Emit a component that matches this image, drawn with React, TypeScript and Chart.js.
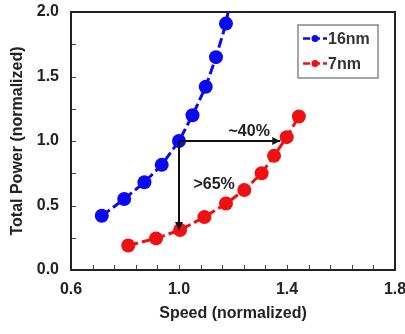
import React, { useEffect, useRef } from "react";
import { Chart, registerables } from "chart.js";

Chart.register(...registerables);

const speed16 = [0.714, 0.797, 0.872, 0.936, 1.0, 1.05, 1.099, 1.137, 1.174, 1.195];
const power16 = [0.42, 0.55, 0.68, 0.815, 1.0, 1.2, 1.42, 1.65, 1.91, 2.15];
const speed7 = [0.812, 0.915, 1.004, 1.094, 1.174, 1.242, 1.306, 1.352, 1.399, 1.444];
const power7 = [0.19, 0.245, 0.31, 0.41, 0.515, 0.62, 0.75, 0.885, 1.03, 1.19];
const seriesNames = ["16nm", "7nm"];
const seriesColors = ["#0a0af0", "#ee1111"];
const xTickLabels = [0.6, 1.0, 1.4, 1.8];
const yTickLabels = [0.0, 0.5, 1.0, 1.5, 2.0];
const xMinorStep = 0.08;
const yMinorStep = 0.25;
// annotation arrows: [x0, y0, x1, y1]
const arrowSpeed = [1.0, 1.0, 1.375, 1.0];
const arrowPower = [1.0, 1.0, 1.0, 0.31];
const annotations = [
  { text: "~40%", x: 1.26, y: 1.07 },
  { text: ">65%", x: 1.13, y: 0.66 },
];

const FONT = "bold 16px 'Liberation Sans', Arial, sans-serif";

const decorPlugin = {
  id: "decor",
  afterDraw(chart: any) {
    const ctx = chart.ctx;
    const xs = chart.scales.x;
    const ys = chart.scales.y;
    const a = chart.chartArea;
    ctx.save();
    ctx.strokeStyle = "#444";
    ctx.lineWidth = 1;
    for (let v = xs.min; v <= xs.max + 1e-9; v += xMinorStep) {
      const px = Math.round(xs.getPixelForValue(v)) + 0.5;
      ctx.beginPath();
      ctx.moveTo(px, a.bottom);
      ctx.lineTo(px, a.bottom - 5);
      ctx.stroke();
    }
    for (let v = ys.min; v <= ys.max + 1e-9; v += yMinorStep) {
      const py = Math.round(ys.getPixelForValue(v)) + 0.5;
      ctx.beginPath();
      ctx.moveTo(a.left, py);
      ctx.lineTo(a.left + 5, py);
      ctx.stroke();
    }
    ctx.strokeStyle = "#222";
    ctx.lineWidth = 2;
    ctx.strokeRect(a.left, a.top, a.right - a.left, a.bottom - a.top);

    const drawArrow = (arr: number[]) => {
      const x0 = xs.getPixelForValue(arr[0]);
      const y0 = ys.getPixelForValue(arr[1]);
      const x1 = xs.getPixelForValue(arr[2]);
      const y1 = ys.getPixelForValue(arr[3]);
      ctx.strokeStyle = "#111";
      ctx.fillStyle = "#111";
      ctx.lineWidth = 2;
      ctx.beginPath();
      ctx.moveTo(x0, y0);
      ctx.lineTo(x1, y1);
      ctx.stroke();
      const ang = Math.atan2(y1 - y0, x1 - x0);
      const L = 8, W = 4;
      ctx.beginPath();
      ctx.moveTo(x1, y1);
      ctx.lineTo(x1 - L * Math.cos(ang) + W * Math.sin(ang), y1 - L * Math.sin(ang) - W * Math.cos(ang));
      ctx.lineTo(x1 - L * Math.cos(ang) - W * Math.sin(ang), y1 - L * Math.sin(ang) + W * Math.cos(ang));
      ctx.closePath();
      ctx.fill();
    };
    drawArrow(arrowSpeed);
    drawArrow(arrowPower);

    ctx.font = FONT;
    ctx.fillStyle = "#222";
    ctx.textAlign = "center";
    ctx.textBaseline = "middle";
    for (const an of annotations) {
      ctx.fillText(an.text, xs.getPixelForValue(an.x), ys.getPixelForValue(an.y));
    }

    const lx = 298, ly = 25, lw = 80, lh = 53;
    ctx.fillStyle = "#fff";
    ctx.fillRect(lx, ly, lw, lh);
    ctx.strokeStyle = "#888";
    ctx.lineWidth = 1.5;
    ctx.strokeRect(lx, ly, lw, lh);
    const rows = [ly + 13.5, ly + 38.5];
    seriesNames.forEach((name, i) => {
      const yy = rows[i];
      ctx.strokeStyle = seriesColors[i];
      ctx.lineWidth = 2.5;
      ctx.setLineDash([7, 3]);
      ctx.beginPath();
      ctx.moveTo(303, yy);
      ctx.lineTo(327, yy);
      ctx.stroke();
      ctx.setLineDash([]);
      ctx.fillStyle = seriesColors[i];
      ctx.beginPath();
      ctx.arc(315, yy, 3.5, 0, Math.PI * 2);
      ctx.fill();
      ctx.fillStyle = "#333";
      ctx.textAlign = "left";
      ctx.font = FONT;
      ctx.fillText(name, 328, yy + 1);
    });
    ctx.restore();
  },
};

export default function App() {
  const ref = useRef<HTMLCanvasElement>(null);
  useEffect(() => {
    document.body.style.margin = "0";
    const mk = (xs: number[], ys: number[]) => xs.map((x, i) => ({ x, y: ys[i] }));
    const fontSpec = { family: "'Liberation Sans', Arial, sans-serif", size: 16, weight: "bold" };
    const chart = new Chart(ref.current!, {
      type: "scatter",
      data: {
        datasets: [
          {
            label: seriesNames[0],
            data: mk(speed16, power16),
            showLine: true,
            borderColor: seriesColors[0],
            backgroundColor: seriesColors[0],
            borderWidth: 3,
            borderDash: [10, 4],
            pointRadius: 7,
            pointBorderWidth: 0,
          },
          {
            label: seriesNames[1],
            data: mk(speed7, power7),
            showLine: true,
            borderColor: seriesColors[1],
            backgroundColor: seriesColors[1],
            borderWidth: 3,
            borderDash: [10, 4],
            pointRadius: 7,
            pointBorderWidth: 0,
          },
        ],
      },
      options: {
        animation: false,
        responsive: false,
        devicePixelRatio: 1,
        layout: { padding: { left: 0, right: 10, top: 12, bottom: 0 } },
        plugins: { legend: { display: false }, tooltip: { enabled: false } },
        scales: {
          x: {
            type: "linear",
            min: xTickLabels[0],
            max: xTickLabels[xTickLabels.length - 1],
            afterBuildTicks: (s: any) => {
              s.ticks = xTickLabels.map((v) => ({ value: v }));
            },
            afterFit: (s: any) => {
              s.height = 64;
              s.paddingLeft = 0;
              s.paddingRight = 0;
            },
            grid: { display: false, drawTicks: false },
            border: { display: false },
            ticks: {
              padding: 10,
              color: "#222",
              font: fontSpec,
              callback: (v: any) => Number(v).toFixed(1),
              maxRotation: 0,
            },
            title: {
              display: true,
              text: "Speed (normalized)",
              color: "#222",
              font: fontSpec,
              padding: { top: 0, bottom: 11 },
            },
          },
          y: {
            type: "linear",
            min: yTickLabels[0],
            max: yTickLabels[yTickLabels.length - 1],
            afterBuildTicks: (s: any) => {
              s.ticks = yTickLabels.map((v) => ({ value: v }));
            },
            afterFit: (s: any) => {
              s.width = 71;
              s.paddingTop = 0;
              s.paddingBottom = 0;
            },
            grid: { display: false, drawTicks: false },
            border: { display: false },
            ticks: {
              padding: 12,
              color: "#222",
              font: fontSpec,
              callback: (v: any) => Number(v).toFixed(1),
            },
            title: {
              display: true,
              text: "Total Power (normalized)",
              color: "#222",
              font: fontSpec,
              padding: { top: 8, bottom: 0 },
            },
          },
        },
      },
      plugins: [decorPlugin],
    } as any);
    return () => chart.destroy();
  }, []);
  return (
    <div style={{ position: "fixed", left: 0, top: 0, width: 405, height: 334, background: "#fff" }}>
      <canvas ref={ref} width={405} height={334} />
    </div>
  );
}
